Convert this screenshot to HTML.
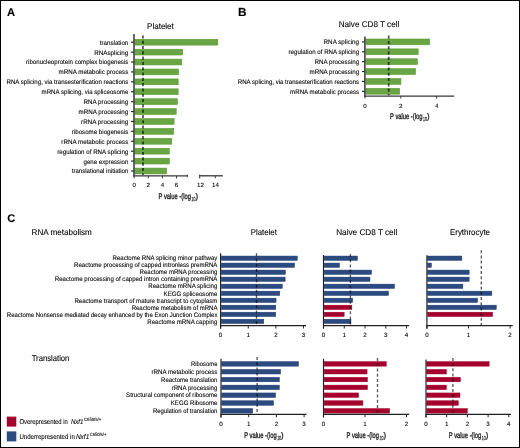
<!DOCTYPE html>
<html><head><meta charset="utf-8"><style>
html,body{margin:0;padding:0;background:#fff;}
#f{position:relative;width:520px;height:448px;box-sizing:border-box;border:1px solid #000;background:#fff;overflow:hidden;}
svg{position:absolute;left:-1px;top:-1px;}
text{font-family:"Liberation Sans", sans-serif;text-rendering:geometricPrecision;}
</style></head><body><div id="f">
<svg width="520" height="448" viewBox="0 0 520 448">
<defs><filter id="gs" x="0" y="0" width="100%" height="100%"><feColorMatrix type="saturate" values="0"/><feGaussianBlur stdDeviation="0.28"/></filter></defs>
<rect x="134.90" y="39.30" width="82.90" height="5.80" fill="#6aa545" stroke="#5a9c34" stroke-width="0.6"/>
<line x1="131.00" y1="42.20" x2="134.00" y2="42.20" stroke="#222" stroke-width="1.15"/>
<rect x="134.90" y="49.21" width="47.70" height="5.80" fill="#6aa545" stroke="#5a9c34" stroke-width="0.6"/>
<line x1="131.00" y1="52.11" x2="134.00" y2="52.11" stroke="#222" stroke-width="1.15"/>
<rect x="134.90" y="59.12" width="46.90" height="5.80" fill="#6aa545" stroke="#5a9c34" stroke-width="0.6"/>
<line x1="131.00" y1="62.02" x2="134.00" y2="62.02" stroke="#222" stroke-width="1.15"/>
<rect x="134.90" y="69.02" width="43.60" height="5.80" fill="#6aa545" stroke="#5a9c34" stroke-width="0.6"/>
<line x1="131.00" y1="71.92" x2="134.00" y2="71.92" stroke="#222" stroke-width="1.15"/>
<rect x="134.90" y="78.93" width="43.30" height="5.80" fill="#6aa545" stroke="#5a9c34" stroke-width="0.6"/>
<line x1="131.00" y1="81.83" x2="134.00" y2="81.83" stroke="#222" stroke-width="1.15"/>
<rect x="134.90" y="88.84" width="43.30" height="5.80" fill="#6aa545" stroke="#5a9c34" stroke-width="0.6"/>
<line x1="131.00" y1="91.74" x2="134.00" y2="91.74" stroke="#222" stroke-width="1.15"/>
<rect x="134.90" y="98.75" width="42.50" height="5.80" fill="#6aa545" stroke="#5a9c34" stroke-width="0.6"/>
<line x1="131.00" y1="101.65" x2="134.00" y2="101.65" stroke="#222" stroke-width="1.15"/>
<rect x="134.90" y="108.66" width="41.30" height="5.80" fill="#6aa545" stroke="#5a9c34" stroke-width="0.6"/>
<line x1="131.00" y1="111.56" x2="134.00" y2="111.56" stroke="#222" stroke-width="1.15"/>
<rect x="134.90" y="118.56" width="39.20" height="5.80" fill="#6aa545" stroke="#5a9c34" stroke-width="0.6"/>
<line x1="131.00" y1="121.46" x2="134.00" y2="121.46" stroke="#222" stroke-width="1.15"/>
<rect x="134.90" y="128.47" width="38.80" height="5.80" fill="#6aa545" stroke="#5a9c34" stroke-width="0.6"/>
<line x1="131.00" y1="131.37" x2="134.00" y2="131.37" stroke="#222" stroke-width="1.15"/>
<rect x="134.90" y="138.38" width="36.90" height="5.80" fill="#6aa545" stroke="#5a9c34" stroke-width="0.6"/>
<line x1="131.00" y1="141.28" x2="134.00" y2="141.28" stroke="#222" stroke-width="1.15"/>
<rect x="134.90" y="148.29" width="34.40" height="5.80" fill="#6aa545" stroke="#5a9c34" stroke-width="0.6"/>
<line x1="131.00" y1="151.19" x2="134.00" y2="151.19" stroke="#222" stroke-width="1.15"/>
<rect x="134.90" y="158.20" width="34.40" height="5.80" fill="#6aa545" stroke="#5a9c34" stroke-width="0.6"/>
<line x1="131.00" y1="161.10" x2="134.00" y2="161.10" stroke="#222" stroke-width="1.15"/>
<rect x="134.90" y="168.10" width="31.70" height="5.80" fill="#6aa545" stroke="#5a9c34" stroke-width="0.6"/>
<line x1="131.00" y1="171.00" x2="134.00" y2="171.00" stroke="#222" stroke-width="1.15"/>
<line x1="143.00" y1="35.40" x2="143.00" y2="175.20" stroke="#5a5a5a" stroke-width="1.8" stroke-dasharray="3.1 2.2" style="mix-blend-mode:multiply"/>
<line x1="134.00" y1="34.00" x2="134.00" y2="176.40" stroke="#38353a" stroke-width="1.5"/>
<line x1="133.30" y1="175.80" x2="187.50" y2="175.80" stroke="#38353a" stroke-width="1.3"/>
<line x1="199.40" y1="175.80" x2="222.80" y2="175.80" stroke="#38353a" stroke-width="1.3"/>
<line x1="134.10" y1="175.80" x2="134.10" y2="178.30" stroke="#38353a" stroke-width="1.0"/>
<line x1="148.30" y1="175.80" x2="148.30" y2="178.30" stroke="#38353a" stroke-width="1.0"/>
<line x1="162.50" y1="175.80" x2="162.50" y2="178.30" stroke="#38353a" stroke-width="1.0"/>
<line x1="176.50" y1="175.80" x2="176.50" y2="178.30" stroke="#38353a" stroke-width="1.0"/>
<line x1="187.30" y1="174.60" x2="187.30" y2="177.20" stroke="#38353a" stroke-width="1.0"/>
<line x1="199.70" y1="174.60" x2="199.70" y2="178.50" stroke="#38353a" stroke-width="1.0"/>
<line x1="215.30" y1="175.80" x2="215.30" y2="178.30" stroke="#38353a" stroke-width="1.0"/>
<rect x="365.90" y="39.00" width="63.80" height="5.80" fill="#6aa545" stroke="#5a9c34" stroke-width="0.6"/>
<line x1="362.00" y1="41.90" x2="364.90" y2="41.90" stroke="#222" stroke-width="1.15"/>
<rect x="365.90" y="48.88" width="52.30" height="5.80" fill="#6aa545" stroke="#5a9c34" stroke-width="0.6"/>
<line x1="362.00" y1="51.78" x2="364.90" y2="51.78" stroke="#222" stroke-width="1.15"/>
<rect x="365.90" y="58.76" width="51.50" height="5.80" fill="#6aa545" stroke="#5a9c34" stroke-width="0.6"/>
<line x1="362.00" y1="61.66" x2="364.90" y2="61.66" stroke="#222" stroke-width="1.15"/>
<rect x="365.90" y="68.64" width="49.60" height="5.80" fill="#6aa545" stroke="#5a9c34" stroke-width="0.6"/>
<line x1="362.00" y1="71.54" x2="364.90" y2="71.54" stroke="#222" stroke-width="1.15"/>
<rect x="365.90" y="78.52" width="35.00" height="5.80" fill="#6aa545" stroke="#5a9c34" stroke-width="0.6"/>
<line x1="362.00" y1="81.42" x2="364.90" y2="81.42" stroke="#222" stroke-width="1.15"/>
<rect x="365.90" y="88.40" width="33.80" height="5.80" fill="#6aa545" stroke="#5a9c34" stroke-width="0.6"/>
<line x1="362.00" y1="91.30" x2="364.90" y2="91.30" stroke="#222" stroke-width="1.15"/>
<line x1="388.70" y1="35.60" x2="388.70" y2="95.50" stroke="#5a5a5a" stroke-width="1.8" stroke-dasharray="3.1 2.2" style="mix-blend-mode:multiply"/>
<line x1="364.90" y1="36.40" x2="364.90" y2="97.00" stroke="#38353a" stroke-width="1.5"/>
<line x1="364.40" y1="96.10" x2="454.20" y2="96.10" stroke="#38353a" stroke-width="1.4"/>
<line x1="365.00" y1="96.10" x2="365.00" y2="98.50" stroke="#38353a" stroke-width="1.0"/>
<line x1="400.80" y1="96.10" x2="400.80" y2="98.50" stroke="#38353a" stroke-width="1.0"/>
<line x1="436.60" y1="96.10" x2="436.60" y2="98.50" stroke="#38353a" stroke-width="1.0"/>
<rect x="221.35" y="256.05" width="75.90" height="4.30" fill="#2b4a80" stroke="#1f3c72" stroke-width="0.5"/>
<rect x="221.35" y="263.07" width="73.20" height="4.30" fill="#2b4a80" stroke="#1f3c72" stroke-width="0.5"/>
<rect x="221.35" y="270.09" width="64.00" height="4.30" fill="#2b4a80" stroke="#1f3c72" stroke-width="0.5"/>
<rect x="221.35" y="277.11" width="63.80" height="4.30" fill="#2b4a80" stroke="#1f3c72" stroke-width="0.5"/>
<rect x="221.35" y="284.13" width="60.90" height="4.30" fill="#2b4a80" stroke="#1f3c72" stroke-width="0.5"/>
<rect x="221.35" y="291.15" width="58.40" height="4.30" fill="#2b4a80" stroke="#1f3c72" stroke-width="0.5"/>
<rect x="221.35" y="298.17" width="54.70" height="4.30" fill="#2b4a80" stroke="#1f3c72" stroke-width="0.5"/>
<rect x="221.35" y="305.19" width="54.40" height="4.30" fill="#2b4a80" stroke="#1f3c72" stroke-width="0.5"/>
<rect x="221.35" y="312.21" width="54.40" height="4.30" fill="#2b4a80" stroke="#1f3c72" stroke-width="0.5"/>
<rect x="221.35" y="319.23" width="42.40" height="4.30" fill="#2b4a80" stroke="#1f3c72" stroke-width="0.5"/>
<line x1="256.50" y1="253.30" x2="256.50" y2="325.20" stroke="#5a5a5a" stroke-width="1.35" stroke-dasharray="3.0 2.2" style="mix-blend-mode:multiply"/>
<line x1="220.60" y1="253.20" x2="220.60" y2="328.70" stroke="#222124" stroke-width="1.2"/>
<line x1="220.10" y1="325.70" x2="306.00" y2="325.70" stroke="#222124" stroke-width="1.2"/>
<line x1="220.60" y1="325.70" x2="220.60" y2="328.50" stroke="#222124" stroke-width="1.0"/>
<line x1="248.25" y1="325.70" x2="248.25" y2="328.50" stroke="#222124" stroke-width="1.0"/>
<line x1="275.90" y1="325.70" x2="275.90" y2="328.50" stroke="#222124" stroke-width="1.0"/>
<line x1="303.55" y1="325.70" x2="303.55" y2="328.50" stroke="#222124" stroke-width="1.0"/>
<rect x="324.25" y="256.05" width="33.20" height="4.30" fill="#2b4a80" stroke="#1f3c72" stroke-width="0.5"/>
<rect x="324.25" y="263.07" width="15.30" height="4.30" fill="#2b4a80" stroke="#1f3c72" stroke-width="0.5"/>
<rect x="324.25" y="270.09" width="47.20" height="4.30" fill="#2b4a80" stroke="#1f3c72" stroke-width="0.5"/>
<rect x="324.25" y="277.11" width="45.70" height="4.30" fill="#2b4a80" stroke="#1f3c72" stroke-width="0.5"/>
<rect x="324.25" y="284.13" width="70.30" height="4.30" fill="#2b4a80" stroke="#1f3c72" stroke-width="0.5"/>
<rect x="324.25" y="291.15" width="64.30" height="4.30" fill="#2b4a80" stroke="#1f3c72" stroke-width="0.5"/>
<rect x="324.25" y="298.17" width="28.40" height="4.30" fill="#2b4a80" stroke="#1f3c72" stroke-width="0.5"/>
<rect x="324.25" y="305.19" width="27.60" height="4.30" fill="#a6002f" stroke="#9c0024" stroke-width="0.5"/>
<rect x="324.25" y="312.21" width="19.90" height="4.30" fill="#a6002f" stroke="#9c0024" stroke-width="0.5"/>
<rect x="324.25" y="319.23" width="26.70" height="4.30" fill="#2b4a80" stroke="#1f3c72" stroke-width="0.5"/>
<line x1="350.40" y1="254.00" x2="350.40" y2="325.20" stroke="#5a5a5a" stroke-width="1.35" stroke-dasharray="3.0 2.2" style="mix-blend-mode:multiply"/>
<line x1="323.50" y1="255.00" x2="323.50" y2="328.70" stroke="#222124" stroke-width="1.2"/>
<line x1="323.00" y1="325.70" x2="409.20" y2="325.70" stroke="#222124" stroke-width="1.2"/>
<line x1="323.50" y1="325.70" x2="323.50" y2="328.50" stroke="#222124" stroke-width="1.0"/>
<line x1="344.25" y1="325.70" x2="344.25" y2="328.50" stroke="#222124" stroke-width="1.0"/>
<line x1="365.00" y1="325.70" x2="365.00" y2="328.50" stroke="#222124" stroke-width="1.0"/>
<line x1="385.75" y1="325.70" x2="385.75" y2="328.50" stroke="#222124" stroke-width="1.0"/>
<line x1="406.50" y1="325.70" x2="406.50" y2="328.50" stroke="#222124" stroke-width="1.0"/>
<rect x="427.65" y="256.05" width="34.20" height="4.30" fill="#2b4a80" stroke="#1f3c72" stroke-width="0.5"/>
<rect x="427.65" y="263.07" width="3.80" height="4.30" fill="#2b4a80" stroke="#1f3c72" stroke-width="0.5"/>
<rect x="427.65" y="270.09" width="41.50" height="4.30" fill="#2b4a80" stroke="#1f3c72" stroke-width="0.5"/>
<rect x="427.65" y="277.11" width="41.50" height="4.30" fill="#2b4a80" stroke="#1f3c72" stroke-width="0.5"/>
<rect x="427.65" y="284.13" width="35.20" height="4.30" fill="#2b4a80" stroke="#1f3c72" stroke-width="0.5"/>
<rect x="427.65" y="291.15" width="64.20" height="4.30" fill="#2b4a80" stroke="#1f3c72" stroke-width="0.5"/>
<rect x="427.65" y="298.17" width="50.00" height="4.30" fill="#2b4a80" stroke="#1f3c72" stroke-width="0.5"/>
<rect x="427.65" y="305.19" width="68.60" height="4.30" fill="#2b4a80" stroke="#1f3c72" stroke-width="0.5"/>
<rect x="427.65" y="312.21" width="65.00" height="4.30" fill="#a6002f" stroke="#9c0024" stroke-width="0.5"/>
<line x1="481.30" y1="250.20" x2="481.30" y2="325.20" stroke="#5a5a5a" stroke-width="1.35" stroke-dasharray="3.0 2.2" style="mix-blend-mode:multiply"/>
<line x1="426.90" y1="255.20" x2="426.90" y2="328.70" stroke="#222124" stroke-width="1.2"/>
<line x1="426.40" y1="325.70" x2="512.70" y2="325.70" stroke="#222124" stroke-width="1.2"/>
<line x1="426.90" y1="325.70" x2="426.90" y2="328.50" stroke="#222124" stroke-width="1.0"/>
<line x1="468.50" y1="325.70" x2="468.50" y2="328.50" stroke="#222124" stroke-width="1.0"/>
<line x1="510.10" y1="325.70" x2="510.10" y2="328.50" stroke="#222124" stroke-width="1.0"/>
<rect x="221.75" y="361.65" width="76.80" height="4.50" fill="#2b4a80" stroke="#1f3c72" stroke-width="0.5"/>
<rect x="221.75" y="369.47" width="58.80" height="4.50" fill="#2b4a80" stroke="#1f3c72" stroke-width="0.5"/>
<rect x="221.75" y="377.30" width="57.60" height="4.50" fill="#2b4a80" stroke="#1f3c72" stroke-width="0.5"/>
<rect x="221.75" y="385.12" width="57.60" height="4.50" fill="#2b4a80" stroke="#1f3c72" stroke-width="0.5"/>
<rect x="221.75" y="392.95" width="53.80" height="4.50" fill="#2b4a80" stroke="#1f3c72" stroke-width="0.5"/>
<rect x="221.75" y="400.77" width="51.80" height="4.50" fill="#2b4a80" stroke="#1f3c72" stroke-width="0.5"/>
<rect x="221.75" y="408.60" width="30.90" height="4.50" fill="#2b4a80" stroke="#1f3c72" stroke-width="0.5"/>
<line x1="257.10" y1="357.00" x2="257.10" y2="413.95" stroke="#5a5a5a" stroke-width="1.35" stroke-dasharray="3.0 2.2" style="mix-blend-mode:multiply"/>
<line x1="221.00" y1="358.80" x2="221.00" y2="417.45" stroke="#222124" stroke-width="1.2"/>
<line x1="220.50" y1="414.45" x2="306.50" y2="414.45" stroke="#222124" stroke-width="1.2"/>
<line x1="221.00" y1="414.45" x2="221.00" y2="417.25" stroke="#222124" stroke-width="1.0"/>
<line x1="248.70" y1="414.45" x2="248.70" y2="417.25" stroke="#222124" stroke-width="1.0"/>
<line x1="276.40" y1="414.45" x2="276.40" y2="417.25" stroke="#222124" stroke-width="1.0"/>
<line x1="304.10" y1="414.45" x2="304.10" y2="417.25" stroke="#222124" stroke-width="1.0"/>
<rect x="324.25" y="361.65" width="62.00" height="4.50" fill="#a6002f" stroke="#9c0024" stroke-width="0.5"/>
<rect x="324.25" y="369.47" width="42.80" height="4.50" fill="#a6002f" stroke="#9c0024" stroke-width="0.5"/>
<rect x="324.25" y="377.30" width="43.20" height="4.50" fill="#a6002f" stroke="#9c0024" stroke-width="0.5"/>
<rect x="324.25" y="385.12" width="43.20" height="4.50" fill="#a6002f" stroke="#9c0024" stroke-width="0.5"/>
<rect x="324.25" y="392.95" width="34.30" height="4.50" fill="#a6002f" stroke="#9c0024" stroke-width="0.5"/>
<rect x="324.25" y="400.77" width="38.60" height="4.50" fill="#a6002f" stroke="#9c0024" stroke-width="0.5"/>
<rect x="324.25" y="408.60" width="65.30" height="4.50" fill="#a6002f" stroke="#9c0024" stroke-width="0.5"/>
<line x1="377.50" y1="358.10" x2="377.50" y2="413.95" stroke="#5a5a5a" stroke-width="1.35" stroke-dasharray="3.0 2.2" style="mix-blend-mode:multiply"/>
<line x1="323.50" y1="358.80" x2="323.50" y2="417.45" stroke="#222124" stroke-width="1.2"/>
<line x1="323.00" y1="414.45" x2="409.20" y2="414.45" stroke="#222124" stroke-width="1.2"/>
<line x1="323.50" y1="414.45" x2="323.50" y2="417.25" stroke="#222124" stroke-width="1.0"/>
<line x1="365.00" y1="414.45" x2="365.00" y2="417.25" stroke="#222124" stroke-width="1.0"/>
<line x1="406.50" y1="414.45" x2="406.50" y2="417.25" stroke="#222124" stroke-width="1.0"/>
<rect x="426.75" y="361.65" width="62.40" height="4.50" fill="#a6002f" stroke="#9c0024" stroke-width="0.5"/>
<rect x="426.75" y="369.47" width="19.70" height="4.50" fill="#a6002f" stroke="#9c0024" stroke-width="0.5"/>
<rect x="426.75" y="377.30" width="33.60" height="4.50" fill="#a6002f" stroke="#9c0024" stroke-width="0.5"/>
<rect x="426.75" y="385.12" width="19.70" height="4.50" fill="#a6002f" stroke="#9c0024" stroke-width="0.5"/>
<rect x="426.75" y="392.95" width="33.20" height="4.50" fill="#a6002f" stroke="#9c0024" stroke-width="0.5"/>
<rect x="426.75" y="400.77" width="31.50" height="4.50" fill="#a6002f" stroke="#9c0024" stroke-width="0.5"/>
<rect x="426.75" y="408.60" width="40.50" height="4.50" fill="#a6002f" stroke="#9c0024" stroke-width="0.5"/>
<line x1="452.90" y1="357.90" x2="452.90" y2="413.95" stroke="#5a5a5a" stroke-width="1.35" stroke-dasharray="3.0 2.2" style="mix-blend-mode:multiply"/>
<line x1="426.00" y1="359.40" x2="426.00" y2="417.45" stroke="#222124" stroke-width="1.2"/>
<line x1="425.50" y1="414.45" x2="511.00" y2="414.45" stroke="#222124" stroke-width="1.2"/>
<line x1="426.00" y1="414.45" x2="426.00" y2="417.25" stroke="#222124" stroke-width="1.0"/>
<line x1="446.70" y1="414.45" x2="446.70" y2="417.25" stroke="#222124" stroke-width="1.0"/>
<line x1="467.40" y1="414.45" x2="467.40" y2="417.25" stroke="#222124" stroke-width="1.0"/>
<line x1="488.10" y1="414.45" x2="488.10" y2="417.25" stroke="#222124" stroke-width="1.0"/>
<line x1="508.80" y1="414.45" x2="508.80" y2="417.25" stroke="#222124" stroke-width="1.0"/>
<rect x="6.80" y="416.60" width="9.50" height="10.00" fill="#a6002f"/>
<rect x="6.80" y="431.40" width="9.50" height="10.00" fill="#2b4a80"/>
<g filter="url(#gs)" stroke="#231f20" stroke-width="0.1">
<text x="6.90" y="15.80" font-size="11.2" font-weight="bold" fill="#000">A</text>
<text x="238.00" y="16.20" font-size="11.8" font-weight="bold" fill="#000">B</text>
<text x="7.20" y="222.30" font-size="11.2" font-weight="bold" fill="#000">C</text>
<text x="147.10" y="29.10" font-size="8.4" textLength="26.70" lengthAdjust="spacingAndGlyphs">Platelet</text>
<text x="128.30" y="44.60" font-size="6.55" text-anchor="end" textLength="28.50" lengthAdjust="spacingAndGlyphs">translation</text>
<text x="128.30" y="54.51" font-size="6.55" text-anchor="end" textLength="34.00" lengthAdjust="spacingAndGlyphs">RNAsplicing</text>
<text x="128.30" y="64.42" font-size="6.55" text-anchor="end" textLength="102.25" lengthAdjust="spacingAndGlyphs">ribonucleoprotein complex biogenesis</text>
<text x="128.30" y="74.32" font-size="6.55" text-anchor="end" textLength="69.75" lengthAdjust="spacingAndGlyphs">mRNA metabolic process</text>
<text x="128.30" y="84.23" font-size="6.55" text-anchor="end" textLength="121.75" lengthAdjust="spacingAndGlyphs">RNA splicing, via transesterification reactions</text>
<text x="128.30" y="94.14" font-size="6.55" text-anchor="end" textLength="86.75" lengthAdjust="spacingAndGlyphs">mRNA splicing, via spliceosome</text>
<text x="128.30" y="104.05" font-size="6.55" text-anchor="end" textLength="44.75" lengthAdjust="spacingAndGlyphs">RNA processing</text>
<text x="128.30" y="113.96" font-size="6.55" text-anchor="end" textLength="49.75" lengthAdjust="spacingAndGlyphs">mRNA processing</text>
<text x="128.30" y="123.86" font-size="6.55" text-anchor="end" textLength="47.25" lengthAdjust="spacingAndGlyphs">rRNA processing</text>
<text x="128.30" y="133.77" font-size="6.55" text-anchor="end" textLength="56.50" lengthAdjust="spacingAndGlyphs">ribosome biogenesis</text>
<text x="128.30" y="143.68" font-size="6.55" text-anchor="end" textLength="67.00" lengthAdjust="spacingAndGlyphs">rRNA metabolic process</text>
<text x="128.30" y="153.59" font-size="6.55" text-anchor="end" textLength="71.00" lengthAdjust="spacingAndGlyphs">regulation of RNA splicing</text>
<text x="128.30" y="163.50" font-size="6.55" text-anchor="end" textLength="44.75" lengthAdjust="spacingAndGlyphs">gene expression</text>
<text x="128.30" y="173.40" font-size="6.55" text-anchor="end" textLength="56.50" lengthAdjust="spacingAndGlyphs">translational initiation</text>
<text x="134.10" y="187.40" font-size="6.1" text-anchor="middle">0</text>
<text x="148.30" y="187.40" font-size="6.1" text-anchor="middle">2</text>
<text x="162.50" y="187.40" font-size="6.1" text-anchor="middle">4</text>
<text x="176.50" y="187.40" font-size="6.1" text-anchor="middle">6</text>
<text x="200.40" y="187.40" font-size="6.1" text-anchor="middle">12</text>
<text x="215.50" y="187.40" font-size="6.1" text-anchor="middle">14</text>
<text x="158.50" y="198.60" font-size="8.2" textLength="32.5" lengthAdjust="spacingAndGlyphs" fill="#231f20" stroke-width="0.35">P value -(log</text>
<text x="191.50" y="201.00" font-size="6.0" textLength="3.8" lengthAdjust="spacingAndGlyphs" fill="#231f20" stroke-width="0.25">10</text>
<text x="195.40" y="198.60" font-size="8.2" textLength="2.6" lengthAdjust="spacingAndGlyphs" fill="#231f20" stroke-width="0.3">)</text>
<text x="338.70" y="27.00" font-size="8.4" textLength="60.60" lengthAdjust="spacingAndGlyphs">Naive CD8 T cell</text>
<text x="359.10" y="44.30" font-size="6.55" text-anchor="end" textLength="35.50" lengthAdjust="spacingAndGlyphs">RNA splicing</text>
<text x="359.10" y="54.18" font-size="6.55" text-anchor="end" textLength="70.60" lengthAdjust="spacingAndGlyphs">regulation of RNA splicing</text>
<text x="359.10" y="64.06" font-size="6.55" text-anchor="end" textLength="44.60" lengthAdjust="spacingAndGlyphs">RNA processing</text>
<text x="359.10" y="73.94" font-size="6.55" text-anchor="end" textLength="49.60" lengthAdjust="spacingAndGlyphs">mRNA processing</text>
<text x="359.10" y="83.82" font-size="6.55" text-anchor="end" textLength="121.30" lengthAdjust="spacingAndGlyphs">RNA splicing, via transesterification reactions</text>
<text x="359.10" y="93.70" font-size="6.55" text-anchor="end" textLength="69.00" lengthAdjust="spacingAndGlyphs">mRNA metabolic process</text>
<text x="365.00" y="107.60" font-size="6.1" text-anchor="middle">0</text>
<text x="400.80" y="107.60" font-size="6.1" text-anchor="middle">2</text>
<text x="436.60" y="107.60" font-size="6.1" text-anchor="middle">4</text>
<text x="390.00" y="118.70" font-size="8.2" textLength="32.5" lengthAdjust="spacingAndGlyphs" fill="#231f20" stroke-width="0.35">P value -(log</text>
<text x="423.00" y="121.10" font-size="6.0" textLength="3.8" lengthAdjust="spacingAndGlyphs" fill="#231f20" stroke-width="0.25">10</text>
<text x="426.90" y="118.70" font-size="8.2" textLength="2.6" lengthAdjust="spacingAndGlyphs" fill="#231f20" stroke-width="0.3">)</text>
<text x="31.60" y="235.20" font-size="8.4" textLength="60.20" lengthAdjust="spacingAndGlyphs">RNA metabolism</text>
<text x="31.70" y="361.10" font-size="8.4" textLength="37.70" lengthAdjust="spacingAndGlyphs">Translation</text>
<text x="250.80" y="235.40" font-size="8.4" textLength="26.10" lengthAdjust="spacingAndGlyphs">Platelet</text>
<text x="336.20" y="235.40" font-size="8.4" textLength="61.10" lengthAdjust="spacingAndGlyphs">Naive CD8 T cell</text>
<text x="450.00" y="235.40" font-size="8.4" textLength="40.00" lengthAdjust="spacingAndGlyphs">Erythrocyte</text>
<text x="217.40" y="260.40" font-size="6.55" text-anchor="end" textLength="104.90" lengthAdjust="spacingAndGlyphs">Reactome RNA splicing minor pathway</text>
<text x="217.40" y="267.42" font-size="6.55" text-anchor="end" textLength="143.40" lengthAdjust="spacingAndGlyphs">Reactome processing of capped intronless premRNA</text>
<text x="217.40" y="274.44" font-size="6.55" text-anchor="end" textLength="77.80" lengthAdjust="spacingAndGlyphs">Reactome mRNA processing</text>
<text x="217.40" y="281.46" font-size="6.55" text-anchor="end" textLength="162.60" lengthAdjust="spacingAndGlyphs">Reactome processing of capped intron containing premRNA</text>
<text x="217.40" y="288.48" font-size="6.55" text-anchor="end" textLength="69.10" lengthAdjust="spacingAndGlyphs">Reactome mRNA splicing</text>
<text x="217.40" y="295.50" font-size="6.55" text-anchor="end" textLength="53.80" lengthAdjust="spacingAndGlyphs">KEGG spliceosome</text>
<text x="217.40" y="302.52" font-size="6.55" text-anchor="end" textLength="143.00" lengthAdjust="spacingAndGlyphs">Reactome transport of mature transcript to cytoplasm</text>
<text x="217.40" y="309.54" font-size="6.55" text-anchor="end" textLength="85.70" lengthAdjust="spacingAndGlyphs">Reactome metabolism of mRNA</text>
<text x="217.40" y="316.56" font-size="6.55" text-anchor="end" textLength="210.60" lengthAdjust="spacingAndGlyphs">Reactome Nonsense mediated decay enhanced by the Exon Junction Complex</text>
<text x="217.40" y="323.58" font-size="6.55" text-anchor="end" textLength="70.10" lengthAdjust="spacingAndGlyphs">Reactome mRNA capping</text>
<text x="220.60" y="337.00" font-size="6.2" text-anchor="middle">0</text>
<text x="248.25" y="337.00" font-size="6.2" text-anchor="middle">1</text>
<text x="275.90" y="337.00" font-size="6.2" text-anchor="middle">2</text>
<text x="303.55" y="337.00" font-size="6.2" text-anchor="middle">3</text>
<text x="323.50" y="337.00" font-size="6.2" text-anchor="middle">0</text>
<text x="344.25" y="337.00" font-size="6.2" text-anchor="middle">1</text>
<text x="365.00" y="337.00" font-size="6.2" text-anchor="middle">2</text>
<text x="385.75" y="337.00" font-size="6.2" text-anchor="middle">3</text>
<text x="406.50" y="337.00" font-size="6.2" text-anchor="middle">4</text>
<text x="426.90" y="337.00" font-size="6.2" text-anchor="middle">0</text>
<text x="468.50" y="337.00" font-size="6.2" text-anchor="middle">1</text>
<text x="510.10" y="337.00" font-size="6.2" text-anchor="middle">2</text>
<text x="217.40" y="366.10" font-size="6.55" text-anchor="end" textLength="26.40" lengthAdjust="spacingAndGlyphs">Ribosome</text>
<text x="217.40" y="373.92" font-size="6.55" text-anchor="end" textLength="65.90" lengthAdjust="spacingAndGlyphs">rRNA metabolic process</text>
<text x="217.40" y="381.75" font-size="6.55" text-anchor="end" textLength="56.30" lengthAdjust="spacingAndGlyphs">Reactome translation</text>
<text x="217.40" y="389.57" font-size="6.55" text-anchor="end" textLength="45.70" lengthAdjust="spacingAndGlyphs">rRNA processing</text>
<text x="217.40" y="397.40" font-size="6.55" text-anchor="end" textLength="91.30" lengthAdjust="spacingAndGlyphs">Structural component of ribosome</text>
<text x="217.40" y="405.22" font-size="6.55" text-anchor="end" textLength="46.60" lengthAdjust="spacingAndGlyphs">KEGG Ribosome</text>
<text x="217.40" y="413.05" font-size="6.55" text-anchor="end" textLength="64.50" lengthAdjust="spacingAndGlyphs">Regulation of translation</text>
<text x="221.00" y="425.60" font-size="6.2" text-anchor="middle">0</text>
<text x="248.70" y="425.60" font-size="6.2" text-anchor="middle">1</text>
<text x="276.40" y="425.60" font-size="6.2" text-anchor="middle">2</text>
<text x="304.10" y="425.60" font-size="6.2" text-anchor="middle">3</text>
<text x="323.50" y="425.60" font-size="6.2" text-anchor="middle">0</text>
<text x="365.00" y="425.60" font-size="6.2" text-anchor="middle">1</text>
<text x="406.50" y="425.60" font-size="6.2" text-anchor="middle">2</text>
<text x="426.00" y="425.60" font-size="6.2" text-anchor="middle">0</text>
<text x="446.70" y="425.60" font-size="6.2" text-anchor="middle">1</text>
<text x="467.40" y="425.60" font-size="6.2" text-anchor="middle">2</text>
<text x="488.10" y="425.60" font-size="6.2" text-anchor="middle">3</text>
<text x="508.80" y="425.60" font-size="6.2" text-anchor="middle">4</text>
<text x="244.20" y="437.60" font-size="8.2" textLength="32.5" lengthAdjust="spacingAndGlyphs" fill="#231f20" stroke-width="0.35">P value -(log</text>
<text x="277.20" y="440.00" font-size="6.0" textLength="3.8" lengthAdjust="spacingAndGlyphs" fill="#231f20" stroke-width="0.25">10</text>
<text x="281.10" y="437.60" font-size="8.2" textLength="2.6" lengthAdjust="spacingAndGlyphs" fill="#231f20" stroke-width="0.3">)</text>
<text x="346.50" y="437.60" font-size="8.2" textLength="32.5" lengthAdjust="spacingAndGlyphs" fill="#231f20" stroke-width="0.35">P value -(log</text>
<text x="379.50" y="440.00" font-size="6.0" textLength="3.8" lengthAdjust="spacingAndGlyphs" fill="#231f20" stroke-width="0.25">10</text>
<text x="383.40" y="437.60" font-size="8.2" textLength="2.6" lengthAdjust="spacingAndGlyphs" fill="#231f20" stroke-width="0.3">)</text>
<text x="448.80" y="437.60" font-size="8.2" textLength="32.5" lengthAdjust="spacingAndGlyphs" fill="#231f20" stroke-width="0.35">P value -(log</text>
<text x="481.80" y="440.00" font-size="6.0" textLength="3.8" lengthAdjust="spacingAndGlyphs" fill="#231f20" stroke-width="0.25">10</text>
<text x="485.70" y="437.60" font-size="8.2" textLength="2.6" lengthAdjust="spacingAndGlyphs" fill="#231f20" stroke-width="0.3">)</text>
<text x="19.40" y="423.90" font-size="7.0" textLength="48.40" lengthAdjust="spacingAndGlyphs">Overepresented in</text>
<text x="70.90" y="423.90" font-size="7.0" textLength="12.60" lengthAdjust="spacingAndGlyphs" font-style="italic">Nxf1</text>
<text x="84.00" y="420.60" font-size="4.6" textLength="17.30" lengthAdjust="spacingAndGlyphs">C650fs/+</text>
<text x="19.40" y="438.70" font-size="7.0" textLength="55.40" lengthAdjust="spacingAndGlyphs">Underrepresented in</text>
<text x="75.90" y="438.70" font-size="7.0" textLength="13.40" lengthAdjust="spacingAndGlyphs" font-style="italic">Nxf1</text>
<text x="89.80" y="435.50" font-size="4.6" textLength="16.50" lengthAdjust="spacingAndGlyphs">C650fs/+</text>
</g>
</svg></div></body></html>
